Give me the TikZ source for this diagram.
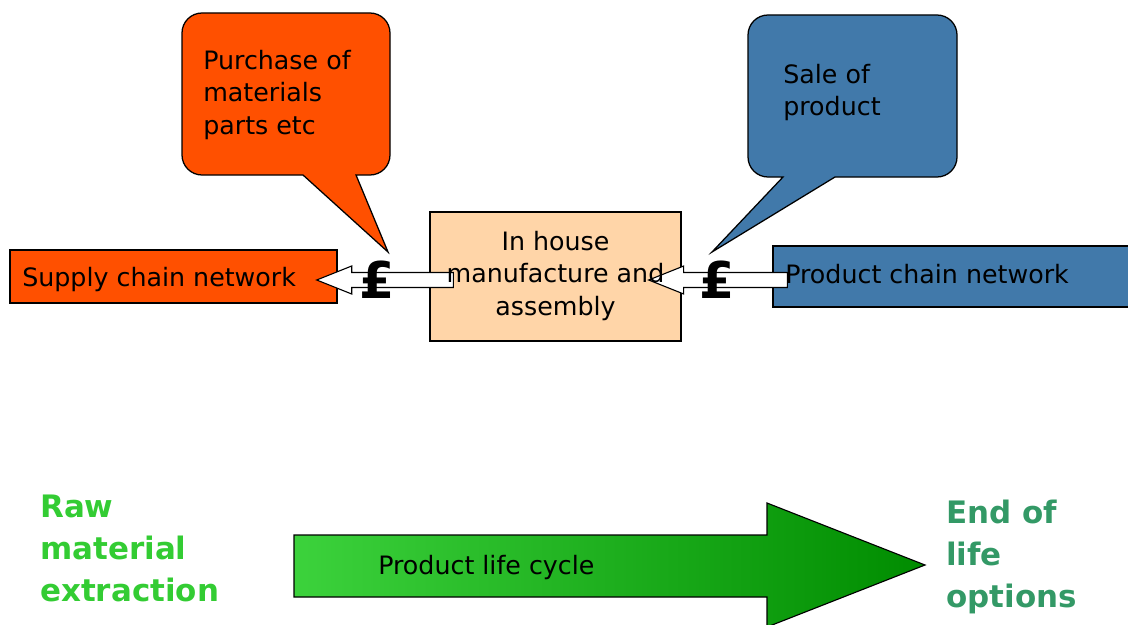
\documentclass[tikz,border=0pt]{standalone}
\usepackage{fontspec}
\setmainfont{DejaVu Sans}
\usetikzlibrary{calc}

\definecolor{supplyorange}{RGB}{255,80,0}
\definecolor{salesblue}{RGB}{65,121,170}
\definecolor{housepeach}{RGB}{255,213,168}
\definecolor{rawgreen}{RGB}{51,204,51}
\definecolor{endgreen}{RGB}{51,153,102}
\definecolor{lifelight}{RGB}{60,210,60}
\definecolor{lifedark}{RGB}{0,140,0}

\begin{document}
\begin{tikzpicture}[
  x=0.025cm, y=-0.025cm,
  every node/.style={font=\fontsize{18}{23.1}\selectfont, inner sep=0pt},
  netbox/.style={draw, line width=0.9pt},
  bubble/.style={draw, line width=0.9pt},
  cash/.style={draw, fill=white, line width=0.8pt,
    to path={let \p1=(\tikztostart), \p2=(\tikztotarget) in
      (\x1,\y1+0.1875cm) -- (\x2+0.875cm,\y1+0.1875cm) -- (\x2+0.875cm,\y1+0.35cm)
      -- (\x2,\y1) -- (\x2+0.875cm,\y1-0.35cm) -- (\x2+0.875cm,\y1-0.1875cm)
      -- (\x1,\y1-0.1875cm) -- cycle}},
  pound/.style={font=\fontsize{36}{40}\selectfont\bfseries},
  stage/.style={font=\fontsize{22}{30.1}\selectfont\bfseries, align=left, anchor=north west}
]
  \useasboundingbox (0,0) rectangle (1128,624);

  % speech bubbles
  \draw[bubble, fill=supplyorange] (362,175) [rounded corners=0.5cm] -- (390,175) -- (390,13)
    -- (182,13) -- (182,175) -- (250,175) [sharp corners] -- (303,175) -- (388,252) -- (356,175) -- cycle;
  \draw[bubble, fill=salesblue] (900,177) [rounded corners=0.5cm] -- (957,177) -- (957,15)
    -- (748,15) -- (748,177) [sharp corners] -- (783,177) -- (712,252) -- (835,177) -- cycle;
  \node[anchor=north west, align=left] (purchase) at (203,50) {Purchase of\\materials\\parts etc};
  \node[anchor=north west, align=left] (sale) at (783,64) {Sale of\\product};

  % networks
  \node[netbox, fill=supplyorange, minimum width=8.175cm, minimum height=1.325cm] (supply) at (173.5,276.5) {};
  \node[netbox, fill=housepeach, minimum width=6.275cm, minimum height=3.225cm] (house) at (555.5,276.5) {};
  \node[netbox, fill=salesblue, minimum width=9.05cm, minimum height=1.525cm] (product) at (954,276.5) {};

  \draw[cash] ($(house.west)+(24,3.5)$) to ($(supply.east)+(-21,3.5)$);
  \draw[cash] ($(product.west)+(15,3.5)$) to ($(house.east)+(-33,3.5)$);

  \node[anchor=base west] (supplytext) at (22,286) {Supply chain network};
  \node[align=center] (housetext) at (555.5,276) {In house\\manufacture and\\assembly};
  \node[anchor=base west] (producttext) at (785,283) {Product chain network};
  \node[pound] (pay1) at (377,280) {£};
  \node[pound] (pay2) at (717,280) {£};

  % life cycle
  \draw[line width=0.8pt, left color=lifelight, right color=lifedark]
    (294,535) -- (767,535) -- (767,503) -- (925,565) -- (767,627) -- (767,597) -- (294,597) -- cycle;
  \node[anchor=base west] (lifecycle) at (378,574) {Product life cycle};
  \node[stage, text=rawgreen] (raw) at (40,494.5) {Raw\\material\\extraction};
  \node[stage, text=endgreen] (endlife) at (946,499.5) {End of\\life\\options};
\end{tikzpicture}
\end{document}
